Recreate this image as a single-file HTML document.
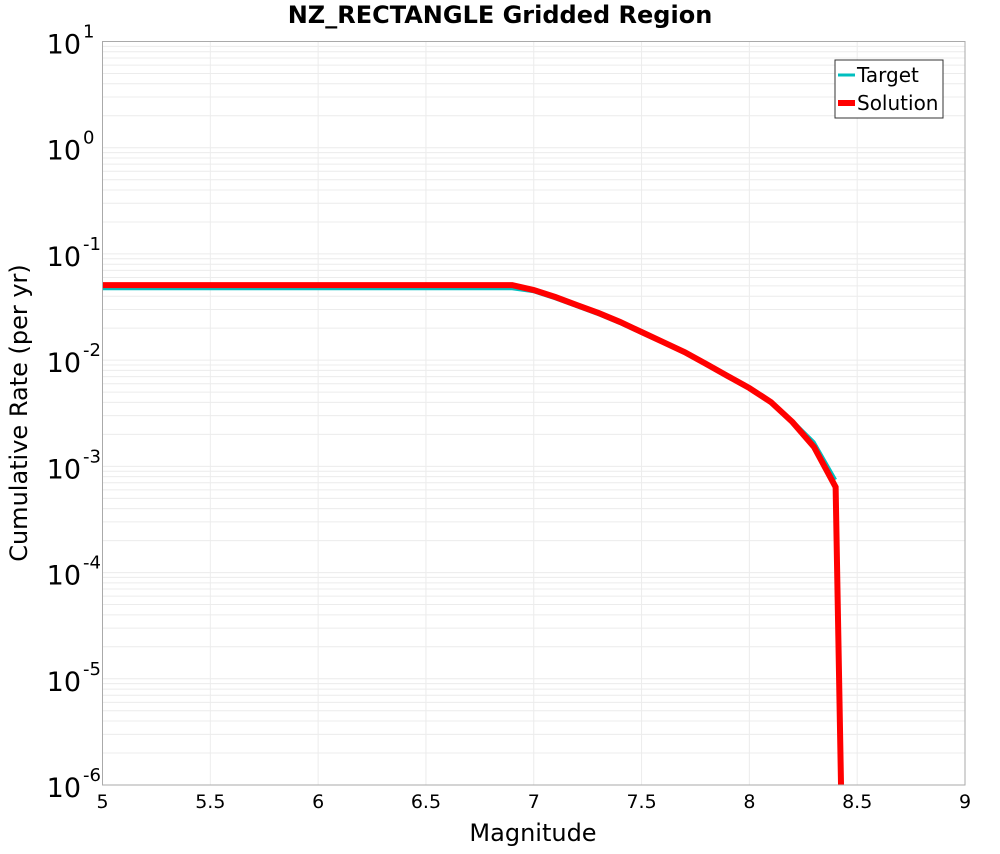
<!DOCTYPE html>
<html><head><meta charset="utf-8"><style>
body{margin:0;background:#fff;font-family:"DejaVu Sans","Liberation Sans",sans-serif}
</style></head><body>
<svg id="chart" width="1000" height="850" xmlns="http://www.w3.org/2000/svg" font-family="DejaVu Sans, Liberation Sans, sans-serif">
<text x="500" y="23" text-anchor="middle" font-size="24" font-weight="bold">NZ_RECTANGLE Gridded Region</text>
<g id="grid"></g><g id="series"></g><g id="axes"></g>
<text x="533" y="841" text-anchor="middle" font-size="24">Magnitude</text>
<text transform="translate(27,413) rotate(-90)" text-anchor="middle" font-size="24">Cumulative Rate (per yr)</text>
<g>
<rect x="835" y="60" width="108" height="58" fill="#fff" stroke="#333" stroke-width="1"/>
<line x1="838" y1="75" x2="855" y2="75" stroke="#00bfbf" stroke-width="3"/>
<text x="857" y="82" font-size="20">Target</text>
<line x1="838" y1="103" x2="855" y2="103" stroke="#ff0000" stroke-width="6"/>
<text x="857" y="110" font-size="20">Solution</text>
</g>
</svg>
<script>
const magnitudes=[5,6.9,7.0,7.1,7.2,7.3,7.4,7.5,7.6,7.7,7.8,7.9,8.0,8.1,8.2,8.3,8.4];
const targetRates=[0.047,0.047,0.0440,0.0378,0.0318,0.0268,0.0221,0.0178,0.0144,0.0116,0.0090,0.0070,0.0055,0.0041,0.0027,0.0017,0.00075];
const solutionMags=[5,6.9,7.0,7.1,7.2,7.3,7.4,7.5,7.6,7.7,7.8,7.9,8.0,8.1,8.2,8.3,8.4,8.425];
const solutionRates=[0.0509,0.0509,0.0457,0.0393,0.0330,0.0278,0.0229,0.0184,0.0148,0.0119,0.00919,0.00708,0.00546,0.00403,0.00261,0.00152,0.000638,0.000001];
const xTicks=["5","5.5","6","6.5","7","7.5","8","8.5","9"];
const yExps=[1,0,-1,-2,-3,-4,-5,-6];
const L=102.5,R=965,T=41.5,B=785;
const X=m=>L+(m-5)/4*(R-L);
const Y=v=>T+(1-Math.log10(v))/7*(B-T);
const NS="http://www.w3.org/2000/svg";
function mk(p,t,a){const e=document.createElementNS(NS,t);for(const k in a)e.setAttribute(k,a[k]);p.appendChild(e);return e;}
const grid=document.getElementById('grid'),axes=document.getElementById('axes'),ser=document.getElementById('series');
for(let e=-6;e<1;e++)for(let k=1;k<10;k++){const y=Y(k*Math.pow(10,e));
const g=mk(grid,'line',{x1:L,x2:R,y1:y,y2:y,stroke:'#ececec','stroke-width':1});

}
xTicks.forEach(t=>{const x=X(+t);
const g=mk(grid,'line',{x1:x,x2:x,y1:T,y2:B,stroke:'#ececec','stroke-width':1});


const tx=mk(axes,'text',{x:x,y:808,'text-anchor':'middle','font-size':19});tx.textContent=t;

});
yExps.forEach(e=>{const y=Y(Math.pow(10,e));
const tx=mk(axes,'text',{x:81,y:y+12,'text-anchor':'end','font-size':27});


tx.textContent='10';
const s=mk(axes,'text',{x:83,y:y-4,'font-size':18});s.textContent=String(e);

});
const fr=mk(axes,'rect',{x:L,y:T,width:R-L,height:B-T,fill:'none',stroke:'#aaa','stroke-width':1});


const cp=mk(ser,'clipPath',{id:'cp'});mk(cp,'rect',{x:L,y:T,width:R-L,height:B-T});
const t=mk(ser,'polyline',{points:magnitudes.map((m,i)=>X(m)+','+Y(targetRates[i])).join(' '),fill:'none',stroke:'#00bfbf','stroke-width':3,'clip-path':'url(#cp)'});


const s=mk(ser,'polyline',{points:solutionMags.map((m,i)=>X(m)+','+Y(solutionRates[i])).join(' '),fill:'none',stroke:'#ff0000','stroke-width':6,'clip-path':'url(#cp)'});


</script>
</body></html>
